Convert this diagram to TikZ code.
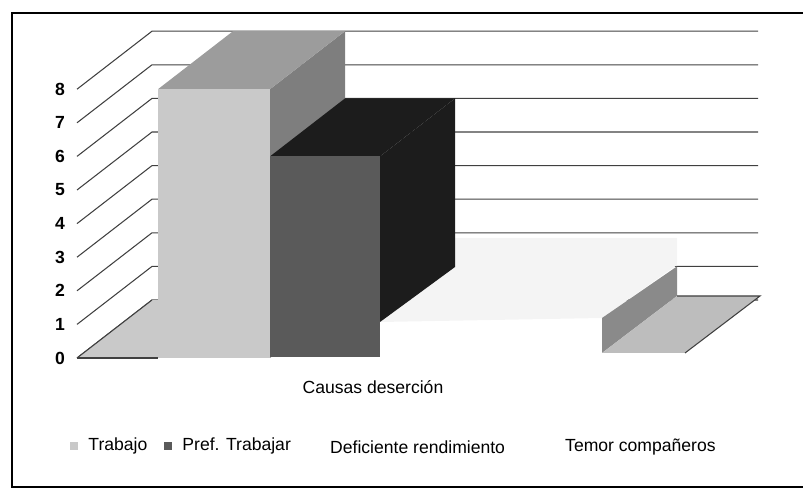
\documentclass[tikz,border=0pt]{standalone}
\usepackage{fontspec}
\setmainfont{Liberation Sans}
\usetikzlibrary{positioning}
\definecolor{floorgray}{HTML}{F4F4F4}
\definecolor{trabfront}{HTML}{C9C9C9}
\definecolor{trabtop}{HTML}{9C9C9C}
\definecolor{trabside}{HTML}{7E7E7E}
\definecolor{preffront}{HTML}{5A5A5A}
\definecolor{prefdark}{HTML}{1C1C1C}
\definecolor{temorside}{HTML}{8A8A8A}
\definecolor{temorbase}{HTML}{BDBDBD}
\begin{document}
\begin{tikzpicture}[x=0.02cm,y=-0.02cm,font=\fontsize{10}{12}\selectfont,
  gridln/.style={black!75, line width=0.6pt},
  legmark/.style={minimum size=5pt, inner sep=0pt}]
\useasboundingbox (0,0) rectangle (803,492);
\draw[line width=1pt] (803,13) -- (12,13) -- (12,487) -- (803,487);
% walls
\begin{scope}[gridln]
  \draw (77,358) -- (152,300) -- (758,300);\draw (77,324.4) -- (152,266.4) -- (758,266.4);\draw (77,290.8) -- (152,232.8) -- (758,232.8);
  \draw (77,257.2) -- (152,199.2) -- (758,199.2);\draw (77,223.6) -- (152,165.6) -- (758,165.6);\draw (77,190) -- (152,132) -- (758,132);
  \draw (77,156.4) -- (152,98.4) -- (758,98.4);\draw (77,122.8) -- (152,64.8) -- (758,64.8);\draw (77,89.2) -- (152,31.2) -- (758,31.2);
\end{scope}
% floor
\fill[floorgray] (380,322) -- (455,267) -- (455,238) -- (677,238) -- (677,265) -- (602,318) -- cycle;
\fill[trabfront] (77,358) -- (152,300) -- (158,300) -- (158,358) -- cycle;
\draw[gridln] (77,358) -- (152,300);\draw[gridln] (77,358) -- (158,358);
% Trabajo
\fill[trabside] (270,89.2) -- (345,31.2) -- (345,300) -- (270,358) -- cycle;
\fill[trabtop] (158,89.2) -- (233,31.2) -- (345,31.2) -- (270,89.2) -- cycle;
\fill[trabfront] (158,89.2) rectangle (270,358);
% Pref. Trabajar
\fill[prefdark] (380,156.4) -- (455,98.4) -- (455,267) -- (380,322) -- cycle;
\fill[prefdark] (270,156.4) -- (345,98.4) -- (455,98.4) -- (380,156.4) -- cycle;
\fill[preffront] (270,156.4) rectangle (380,357);
% Temor companeros
\fill[temorside] (602,318) -- (677,266.4) -- (677,296) -- (602,353) -- cycle;
\fill[temorbase] (602,353) -- (677,296) -- (760,296) -- (685,353) -- cycle;
\draw[gridln] (677,296) -- (760,296) -- (685,353);
\begin{scope}[font=\fontsize{10}{12}\selectfont\bfseries]
  \node (v0) at (60,358) {0};\node (v1) at (60,324.4) {1};\node (v2) at (60,290.8) {2};\node (v3) at (60,257.2) {3};\node (v4) at (60,223.6) {4};
  \node (v5) at (60,190) {5};\node (v6) at (60,156.4) {6};\node (v7) at (60,122.8) {7};\node (v8) at (60,89.2) {8};
\end{scope}
\node (causas) at (373,387) {Causas deserción};
\node[legmark, fill=trabfront] (mtrab) at (74,446) {};\node[right=2pt of mtrab] (ltrab) {Trabajo};
\node[legmark, fill=preffront] (mpref) at (168,446) {};\node[right=2pt of mpref] (lpref) {Pref. Trabajar};
\node[anchor=west] (ldef) at (324,447) {Deficiente rendimiento};
\node[anchor=west] (ltemor) at (559,447) {Temor compañeros};
\end{tikzpicture}
\end{document}
